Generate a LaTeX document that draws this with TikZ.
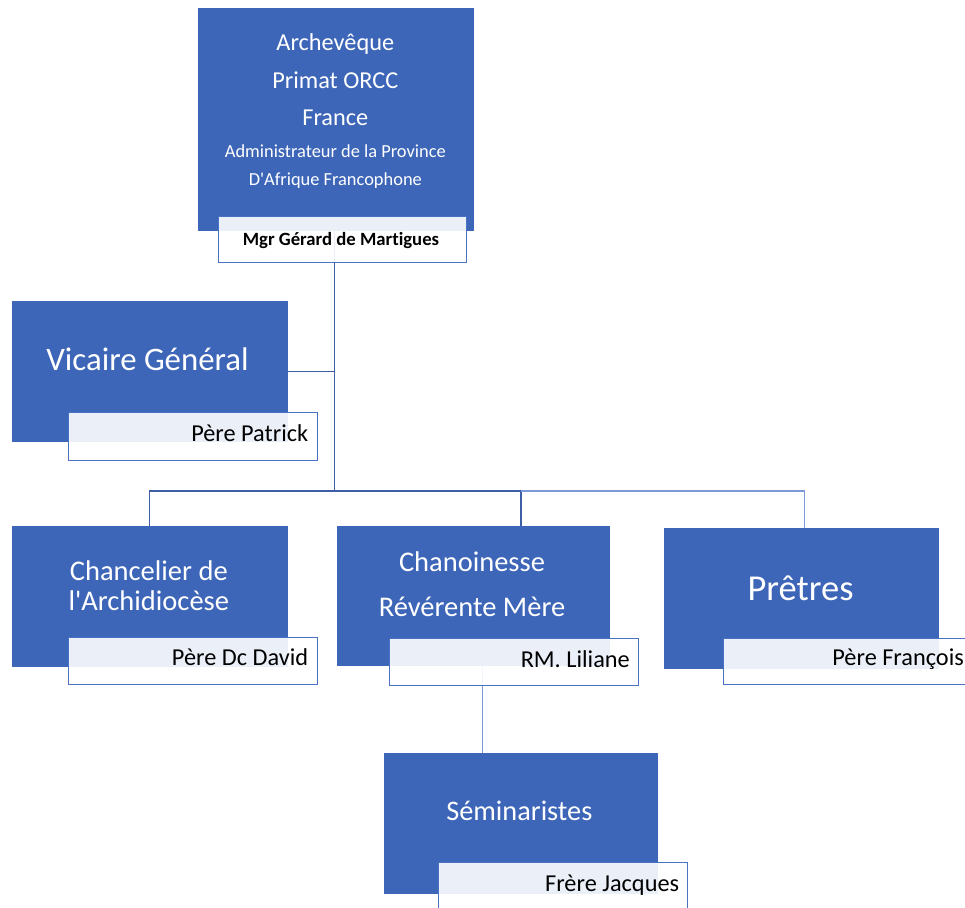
\documentclass[tikz,border=0pt]{standalone}
\usepackage{fontspec}
\setmainfont{Carlito}[Ligatures={NoCommon,TeXOff}]
\definecolor{boxblue}{HTML}{3D66B8}
\definecolor{nameline}{HTML}{4A72C4}
\definecolor{linedark}{HTML}{3E5FA6}
\definecolor{linelight}{HTML}{7C9AD9}
\newcommand{\fsz}[1]{\fontsize{#1}{#1}\selectfont}
\begin{document}
\begin{tikzpicture}[x=1pt,y=-1pt,
  role/.style={fill=boxblue, inner sep=0, anchor=north west},
  namebox/.style={fill=white, fill opacity=0.9, draw=nameline, draw opacity=1, line width=1.2pt, inner sep=0, anchor=north west},
  roletext/.style={text=white, inner sep=0, anchor=base},
  nametext/.style={text=black, inner sep=0, anchor=base east},
  link/.style={draw=linedark, line width=1.4pt},
  linklight/.style={draw=linelight, line width=1.4pt}]
\useasboundingbox[fill=white] (0,0) rectangle (965,907);

% role boxes
\node[role, minimum width=276pt, minimum height=223pt] (top) at (197.5,7.5) {};
\node[role, minimum width=276pt, minimum height=141pt] (vg) at (11.5,301) {};
\node[role, minimum width=276pt, minimum height=141pt] (ch) at (11.5,526) {};
\node[role, minimum width=273.5pt, minimum height=140pt] (cn) at (336.5,526) {};
\node[role, minimum width=275pt, minimum height=141.5pt] (pr) at (664,527.5) {};
\node[role, minimum width=274pt, minimum height=141pt] (sem) at (383.5,752.5) {};

% connectors
\coordinate (hub) at (334.5,491);
\coordinate (cnin) at (521,526);
\coordinate (cnout) at (482.3,666);
\draw[link] (top.south -| hub) -- (hub);
\draw[link] (vg.east) -- (vg.east -| hub);
\draw[link] (hub) -| (ch.north);
\draw[link] (hub) -| (cnin);
\draw[linklight] (cnin |- hub) -| ([xshift=2.5pt]pr.north);
\draw[linklight] (cnout) -- (cnout |- sem.north);

% name boxes
\node[namebox, minimum width=248pt, minimum height=46pt] (topn) at (218,216) {};
\node[namebox, minimum width=249pt, minimum height=48pt] (vgn) at (67.5,411.5) {};
\node[namebox, minimum width=249pt, minimum height=47.5pt] (chn) at (67.5,636.5) {};
\node[namebox, minimum width=248.5pt, minimum height=47pt] (cnn) at (389,638) {};
\node[namebox, minimum width=260pt, minimum height=46pt] (prn) at (722.5,637.5) {};
\node[namebox, minimum width=249pt, minimum height=60pt] (semn) at (438,862) {};

% role texts
\node[roletext, font=\fsz{24.3}] (t1) at (335.3,50) {Archevêque};
\node[roletext, font=\fsz{24.3}] (t2) at (335.3,88.3) {Primat ORCC};
\node[roletext, font=\fsz{24.3}] (t3) at (335.3,125) {France};
\node[roletext, font=\fsz{18.4}] (t4) at (335.3,157.3) {Administrateur de la Province};
\node[roletext, font=\fsz{18.4}] (t5) at (335.3,185) {D'Afrique Francophone};
\node[roletext, font=\fsz{32.8}] (t6) at (147.5,370) {Vicaire Général};
\node[roletext, font=\fsz{28.5}] (t7) at (148.8,580) {Chancelier de};
\node[roletext, font=\fsz{28.5}] (t8) at (148.8,610) {l'Archidiocèse};
\node[roletext, font=\fsz{28.5}] (t9) at (472,571.7) {Chanoinesse};
\node[roletext, font=\fsz{28.5}] (t10) at (472,616) {Révérente Mère};
\node[roletext, font=\fsz{36.5}] (t11) at (800.5,600) {Prêtres};
\node[roletext, font=\fsz{28.3}] (t12) at (519.3,820.7) {Séminaristes};

% name texts
\node[inner sep=0, anchor=base, font=\bfseries\fsz{18.7}] (n1) at (341,245) {Mgr Gérard de Martigues};
\node[nametext, font=\fsz{24.3}] (n2) at (308.3,441.7) {Père Patrick};
\node[nametext, font=\fsz{24.3}] (n3) at (308.3,665) {Père Dc David};
\node[nametext, font=\fsz{24.3}] (n4) at (630,667.3) {RM. Liliane};
\node[nametext, font=\fsz{24.3}] (n5) at (964,665) {Père François};
\node[nametext, font=\fsz{24.3}] (n6) at (679.3,891.7) {Frère Jacques};
\end{tikzpicture}
\end{document}
